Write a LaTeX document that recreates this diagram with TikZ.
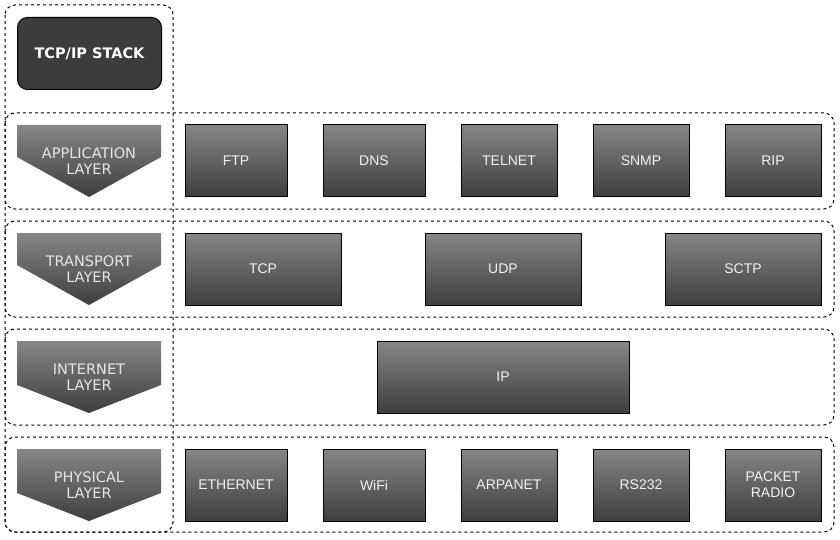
\documentclass[tikz,border=0pt]{standalone}
\usepackage{fontspec}
\setmainfont{Liberation Sans}
\newfontfamily\layerfont{DejaVu Sans}
\usetikzlibrary{positioning}
\definecolor{shadetop}{HTML}{868686}
\definecolor{shadebot}{HTML}{3E3E3E}
\definecolor{headfill}{HTML}{3C3C3C}
\tikzstyle{group} = [draw=black, line width=1pt, dash pattern=on 3pt off 3pt, rounded corners=10pt]
\tikzstyle{proto} = [rectangle, minimum height=72pt, inner sep=0pt, outer sep=0pt, text centered, align=center, draw=black, line width=1pt, top color=shadetop, bottom color=shadebot, text=white!95!black, font=\fontsize{14}{16}\selectfont]
\tikzstyle{layer} = [top color=shadetop, bottom color=shadebot]
\tikzstyle{layertext} = [align=center, inner sep=0pt, text=white!90!black, font=\layerfont\fontsize{14.5}{16}\selectfont]
\tikzstyle{header} = [rectangle, rounded corners=10pt, minimum width=144pt, minimum height=72pt, draw=black, line width=1pt, fill=headfill, text=white, font=\layerfont\bfseries\fontsize{14.5}{16}\selectfont]

\begin{document}
\begin{tikzpicture}[x=1pt,y=-1pt]
\useasboundingbox (0,0) rectangle (840,540);

% dashed frames
\draw [group] (5,5) rectangle (173,532);
\draw [group] (5,113) rectangle (834,209);
\draw [group] (5,221) rectangle (834,317);
\draw [group] (5,329) rectangle (834,425);
\draw [group] (5,437) rectangle (834,532);

\node (stack) [header, anchor=north west] at (17,17) {TCP/IP STACK};

% layer arrows
\foreach \name/\ytop/\sh/\txt in {app/125/32/{APPLICATION\\LAYER},
    trans/233/32/{TRANSPORT\\LAYER}, inet/341/44/{INTERNET\\LAYER},
    phys/449/44/{PHYSICAL\\LAYER}}
{
  \path [layer] (17,\ytop) -- (161,\ytop) -- (161,\ytop+\sh) -- (89,\ytop+72) -- (17,\ytop+\sh) -- cycle;
  \node (\name) [layertext] at (89,\ytop+36) {\txt};
}

% application
\node (ftp) [proto, minimum width=102pt, anchor=north west] at (185,125) {FTP};
\node (dns) [proto, minimum width=102pt, right=36pt of ftp] {DNS};
\node (telnet) [proto, minimum width=96pt, right=36pt of dns] {TELNET};
\node (snmp) [proto, minimum width=96pt, right=36pt of telnet] {SNMP};
\node (rip) [proto, minimum width=96pt, right=36pt of snmp] {RIP};

% transport
\node (tcp) [proto, minimum width=156pt, anchor=north west] at (185,233) {TCP};
\node (udp) [proto, minimum width=156pt, right=84pt of tcp] {UDP};
\node (sctp) [proto, minimum width=156pt, right=84pt of udp] {SCTP};

% internet
\node (ip) [proto, minimum width=252pt, anchor=north west] at (377,341) {IP};

% physical
\node (ether) [proto, minimum width=102pt, anchor=north west] at (185,449) {ETHERNET};
\node (wifi) [proto, minimum width=102pt, right=36pt of ether] {WiFi};
\node (arpa) [proto, minimum width=96pt, right=36pt of wifi] {ARPANET};
\node (rs) [proto, minimum width=96pt, right=36pt of arpa] {RS232};
\node (radio) [proto, minimum width=96pt, right=36pt of rs] {PACKET\\RADIO};
\end{tikzpicture}
\end{document}
